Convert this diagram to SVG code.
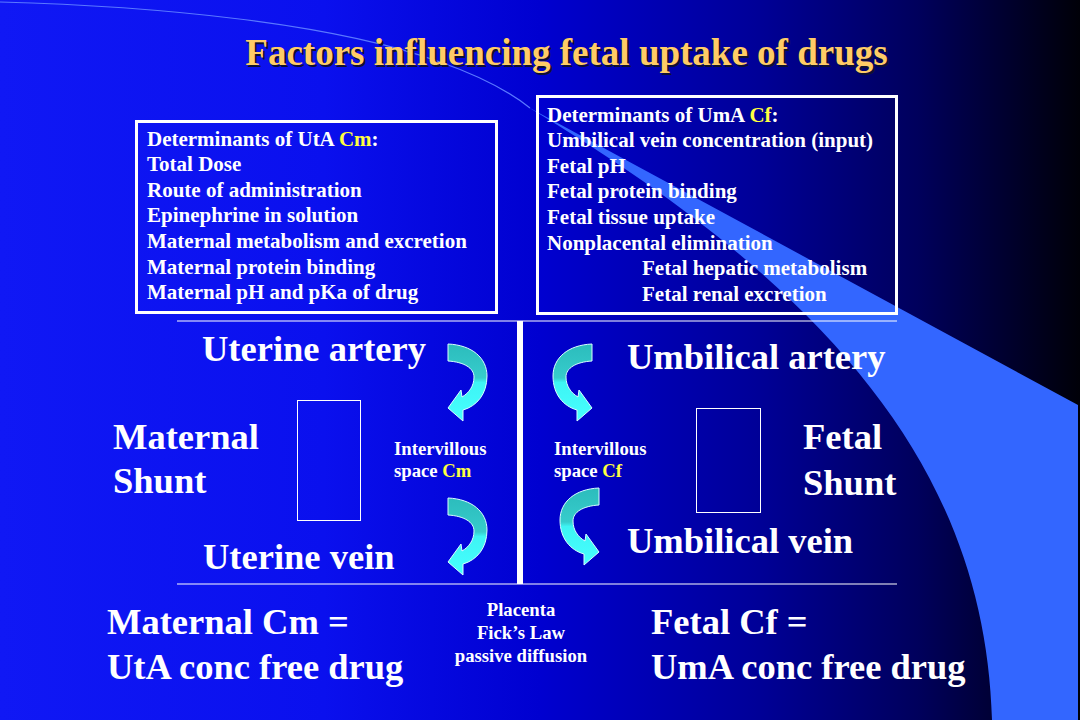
<svg xmlns="http://www.w3.org/2000/svg" width="1080" height="720" viewBox="0 0 1080 720">
<defs>
<linearGradient id="bg" x1="0" y1="0" x2="1" y2="0">
<stop offset="0" stop-color="#1018f5"/>
<stop offset="0.3" stop-color="#0a10ee"/>
<stop offset="0.5" stop-color="#0000d0"/>
<stop offset="0.7" stop-color="#000098"/>
<stop offset="0.85" stop-color="#00005c"/>
<stop offset="1" stop-color="#000008"/>
</linearGradient>
<linearGradient id="arrowFill" x1="0" y1="0" x2="0" y2="1">
<stop offset="0" stop-color="#2cbcbc"/>
<stop offset="0.44" stop-color="#36cccc"/>
<stop offset="0.5" stop-color="#3ef4f4"/>
<stop offset="1" stop-color="#46ffff"/>
</linearGradient>
<path id="curl" d="M1,0 C25,1 40,14 40,32 C40,50 30,62 16,66 L16,77 L1,64 L14,46 L15,53 C22,49 27,42 27,33 C27,24 17,18 1,17 Z"/>
<style>
.t{font-family:"Liberation Serif","Times New Roman",serif;font-weight:bold;fill:#ffffff}
.big{font-size:36.5px}
.box{font-size:21px}
.sm{font-size:18.7px}
.y{fill:#ffff40}
.frame{fill:none;stroke:#ffffff;stroke-width:3}
.thin{fill:none;stroke:#ffffff;stroke-width:1}
.arrow{fill:url(#arrowFill);stroke:#d8ffff;stroke-width:1}
</style>
</defs>

<rect x="0" y="0" width="1080" height="720" fill="url(#bg)"/>

<g id="swoosh">
<path d="M0,2 C150,6 330,22 440,62 C480,76 510,92 530,108" fill="none" stroke="#5a78ff" stroke-width="1.2"/>
<path d="M528,107 L1078,405 L1078,720 L992,720 C985,470 830,288 528,107 Z" fill="#3366ff"/>
</g>

<g id="title">
<text x="568.5" y="66.5" text-anchor="middle" class="t" style="font-size:37px;fill:#101030">Factors influencing fetal uptake of drugs</text>
<text x="566.5" y="64.5" text-anchor="middle" class="t" style="font-size:37px;fill:#ffcc66">Factors influencing fetal uptake of drugs</text>
</g>

<g id="box-uta">
<rect x="136.5" y="121.5" width="360" height="191" class="frame"/>
<text class="t box" x="147" y="146">Determinants  of UtA <tspan class="y">Cm</tspan>:</text>
<text class="t box" x="147" y="171">Total Dose</text>
<text class="t box" x="147" y="197">Route of administration</text>
<text class="t box" x="147" y="222">Epinephrine in solution</text>
<text class="t box" x="147" y="248">Maternal metabolism and excretion</text>
<text class="t box" x="147" y="274">Maternal protein binding</text>
<text class="t box" x="147" y="299">Maternal pH and pKa of drug</text>
</g>

<g id="box-uma">
<rect x="537.5" y="96.5" width="359" height="217" class="frame"/>
<text class="t box" x="547" y="122">Determinants  of UmA <tspan class="y">Cf</tspan>:</text>
<text class="t box" x="547" y="147">Umbilical vein concentration (input)</text>
<text class="t box" x="547" y="173">Fetal pH</text>
<text class="t box" x="547" y="198">Fetal  protein binding</text>
<text class="t box" x="547" y="224">Fetal tissue uptake</text>
<text class="t box" x="547" y="250">Nonplacental elimination</text>
<text class="t box" x="642" y="275">Fetal hepatic metabolism</text>
<text class="t box" x="642" y="301">Fetal renal excretion</text>
</g>

<g id="placenta-frame">
<line x1="177" y1="321" x2="897" y2="321" stroke="#ffffff" stroke-width="1"/>
<line x1="177" y1="584" x2="897" y2="584" stroke="#ffffff" stroke-width="1"/>
<rect x="517" y="321" width="6" height="263" fill="#ffffff"/>
</g>

<g id="maternal-shunt">
<rect x="297.5" y="400.5" width="63" height="120" class="thin"/>
<text class="t big" x="113" y="449">Maternal</text>
<text class="t big" x="113" y="493">Shunt</text>
</g>

<g id="fetal-shunt">
<rect x="696.5" y="408.5" width="64" height="104" class="thin"/>
<text class="t big" x="803" y="449">Fetal</text>
<text class="t big" x="803" y="495">Shunt</text>
</g>

<g id="uterine-artery"><text class="t big" x="202" y="361">Uterine artery</text></g>
<g id="uterine-vein"><text class="t big" x="203" y="569">Uterine vein</text></g>
<g id="umbilical-artery"><text class="t big" x="627" y="369">Umbilical  artery</text></g>
<g id="umbilical-vein"><text class="t big" x="627" y="553">Umbilical vein</text></g>

<g id="ivs-maternal">
<text class="t sm" x="394" y="455">Intervillous</text>
<text class="t sm" x="394" y="477">space <tspan class="y">Cm</tspan></text>
</g>
<g id="ivs-fetal">
<text class="t sm" x="554" y="455">Intervillous</text>
<text class="t sm" x="554" y="477">space <tspan class="y">Cf</tspan></text>
</g>

<g id="placenta-label">
<text class="t sm" x="521" y="616" text-anchor="middle">Placenta</text>
<text class="t sm" x="521" y="639" text-anchor="middle">Fick’s Law</text>
<text class="t sm" x="521" y="662" text-anchor="middle">passive diffusion</text>
</g>

<g id="maternal-cm">
<text class="t big" x="107" y="634">Maternal Cm =</text>
<text class="t big" x="107" y="679">UtA conc free drug</text>
</g>
<g id="fetal-cf">
<text class="t big" x="651" y="634">Fetal Cf =</text>
<text class="t big" x="651" y="679">UmA conc free drug</text>
</g>

<g id="connectors">
<use href="#curl" class="arrow" transform="translate(447,344)"/>
<use href="#curl" class="arrow" transform="translate(593,344) scale(-1,1)"/>
<use href="#curl" class="arrow" transform="translate(447,498)"/>
<use href="#curl" class="arrow" transform="translate(600,488) scale(-1,1)"/>
</g>
</svg>
